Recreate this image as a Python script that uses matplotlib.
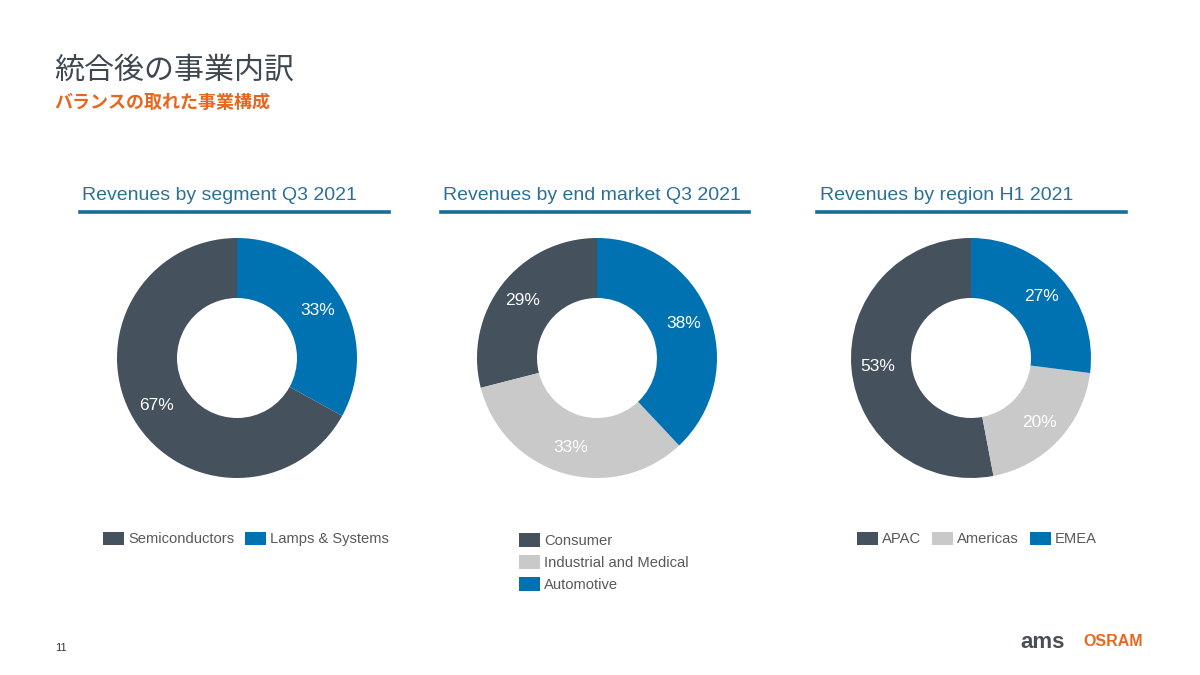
import matplotlib
matplotlib.use("Agg")
import matplotlib.pyplot as plt
from matplotlib.patches import Patch
from matplotlib.lines import Line2D

plt.rcParams['font.family'] = ['Liberation Sans', 'Noto Sans CJK JP', 'DejaVu Sans']

# ---- data ----
main_title = "統合後の事業内訳"
sub_title = "バランスの取れた事業構成"

seg_title = "Revenues by segment Q3 2021"
seg_labels = ["Semiconductors", "Lamps & Systems"]
seg_values = [67, 33]

mkt_title = "Revenues by end market Q3 2021"
mkt_labels = ["Consumer", "Industrial and Medical", "Automotive"]
mkt_values = [29, 33, 38]

reg_title = "Revenues by region H1 2021"
reg_labels = ["APAC", "Americas", "EMEA"]
reg_values = [53, 20, 27]

page_number = "11"

# ---- style ----
DARK = "#45515D"
GREY = "#C9C9C9"
BLUE = "#0072B2"
HEAD = "#2A7199"
LINE = "#1A6C97"
ORANGE = "#E8661E"
TXT = "#595959"

W, H = 1200, 675
fig = plt.figure(figsize=(12, 6.75), dpi=100)
fig.patch.set_facecolor("white")

def fx(x):
    return x / W

def fy(y):
    return 1 - y / H

fig.text(fx(54), fy(70), main_title, fontsize=21.6, color="#3F4850",
         family=['Noto Sans CJK JP', 'DejaVu Sans'], va='center', ha='left')
fig.text(fx(54), fy(102), sub_title, fontsize=13, color=ORANGE, fontweight='bold',
         family=['Noto Sans CJK JP', 'DejaVu Sans'], va='center', ha='left')

charts = [
    dict(title=seg_title, labels=seg_labels, values=seg_values, colors=[DARK, BLUE],
         cx=237, tx=82, lx0=80, lx1=389, leg=(103, 539), ncol=2),
    dict(title=mkt_title, labels=mkt_labels, values=mkt_values, colors=[DARK, GREY, BLUE],
         cx=597, tx=443, lx0=441, lx1=749, leg=(519, 533), ncol=1),
    dict(title=reg_title, labels=reg_labels, values=reg_values, colors=[DARK, GREY, BLUE],
         cx=971, tx=820, lx0=817, lx1=1126, leg=(857, 539), ncol=3),
]

CY = 358
R = 120
HALF = 130

for c in charts:
    fig.text(fx(c['tx']), fy(195), c['title'], fontsize=14, color=HEAD,
             va='center', ha='left')
    fig.add_artist(Line2D([fx(c['lx0']), fx(c['lx1'])], [fy(212), fy(212)],
                          color=LINE, linewidth=2.6, transform=fig.transFigure))
    ax = fig.add_axes([fx(c['cx'] - HALF), fy(CY + HALF), 2 * HALF / W, 2 * HALF / H])
    wedges, texts, autotexts = ax.pie(
        c['values'], colors=c['colors'], startangle=90, counterclock=True,
        radius=1.0, wedgeprops=dict(width=0.5, linewidth=0),
        autopct=lambda p: f"{p:.0f}%", pctdistance=0.78,
        textprops=dict(color="white", fontsize=12.5))
    lim = HALF / R
    ax.set_xlim(-lim, lim)
    ax.set_ylim(-lim, lim)
    ax.set_aspect('equal')
    ax.axis('off')

    handles = [Patch(facecolor=col, edgecolor='none') for col in c['colors']]
    lx, ly = c['leg']
    loc = 'upper left' if c['ncol'] == 1 else 'center left'
    fig.legend(handles, c['labels'], loc=loc, bbox_to_anchor=(fx(lx), fy(ly)),
               ncol=c['ncol'], frameon=False, fontsize=10.6, labelcolor=TXT,
               handlelength=1.4, handleheight=1.05, handletextpad=0.3,
               columnspacing=0.75, labelspacing=0.5, borderpad=0, borderaxespad=0)

fig.text(fx(55), fy(648), page_number, fontsize=8, color="#333333", va='center', ha='left')
fig.text(fx(1020), fy(642), "ams", fontsize=16, color="#4A4F55", fontweight='bold',
         va='center', ha='left')
fig.text(fx(1143), fy(642), "OSRAM", fontsize=11.5, color=ORANGE, fontweight='bold',
         va='center', ha='right')

fig.savefig("out.png", dpi=100, facecolor="white")
